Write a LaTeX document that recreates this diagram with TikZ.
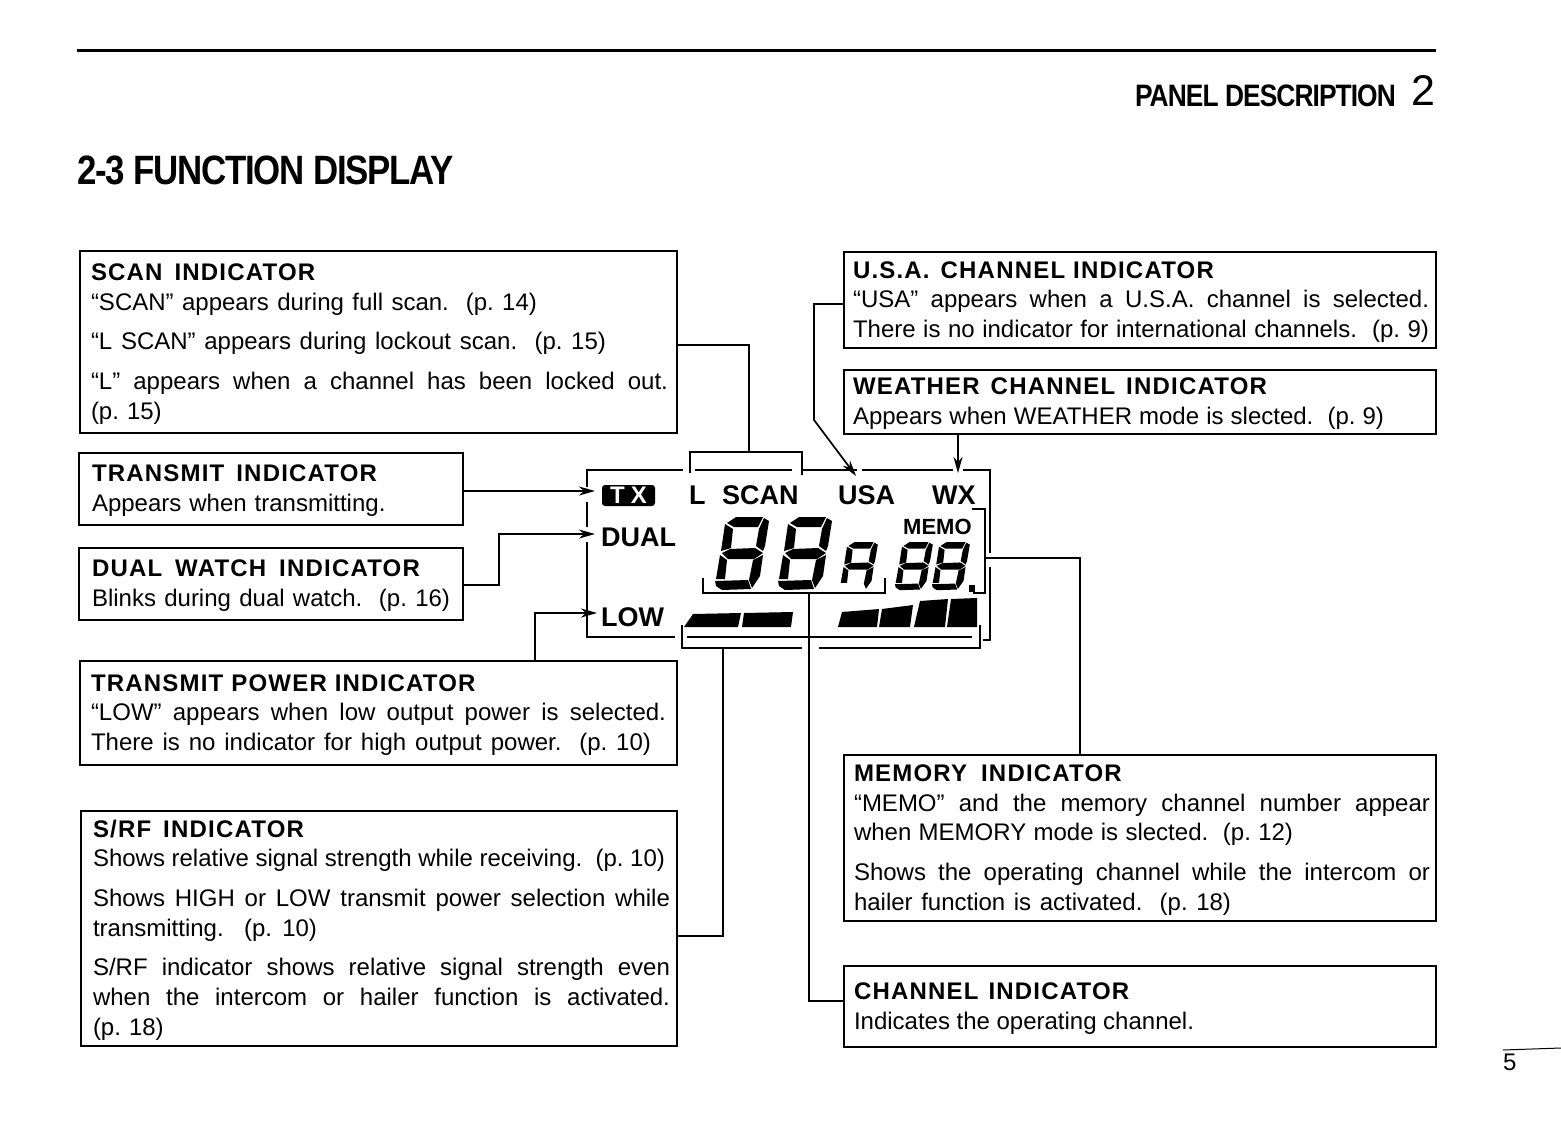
\documentclass[tikz,border=0pt]{standalone}
\usepackage{fontspec}
\setmainfont{Liberation Sans}
\newfontfamily\headfont[FakeStretch=0.85, LetterSpace=-3]{Liberation Sans}
\newfontfamily\titlefont[LetterSpace=5]{Liberation Sans}
\usetikzlibrary{arrows.meta, positioning, calc}

\newcommand{\boxtitle}[1]{\rule{0pt}{20.5pt}{\titlefont\bfseries #1}}
\newcommand{\fitline}[2][\hsize]{\leavevmode\hbox to #1{\spaceskip=.3333em plus 1fil minus 1fil\relax #2}}
% LCD segments, drawn in a 54 x 73 cell
\newcommand{\lcdnobottom}{%
  \fill (12,6) -- (21,0) -- (48,0) -- (43,10) -- (19,10) -- cycle;
  \fill (10,7) -- (18,12) -- (16,31) -- (6,34) -- cycle;
  \fill (49,1) -- (54,4) -- (50,29) -- (48,34) -- (41,29) -- (44,12) -- cycle;
  \fill (7,36) -- (15,32) -- (40,31) -- (48,36) -- (39,42) -- (13,42) -- cycle;
  \fill (5,38) -- (12,43) -- (10,62) -- (1,62) -- cycle;
  \fill (48,38) -- (45,59) -- (37,71) -- (34,63) -- (38,43) -- cycle;
}
\newcommand{\lcdbottom}{%
  \fill (0,64) -- (33,63) -- (36,72) -- (7,73) -- (1,69) -- cycle;
}

\begin{document}
\begin{tikzpicture}[
    x=1pt, y=-1pt,
    infobox/.style={rectangle, draw, line width=1.6pt, anchor=north west, outer sep=0pt, inner ysep=0pt, align=left,
        font=\fontsize{24}{29.7}\selectfont\frenchspacing},
    wire/.style={line width=1.7pt},
    arrow/.style={wire, -{Stealth[length=16pt, width=9pt, inset=5pt]}},
    lcdframe/.style={line width=2.2pt},
    lcdlabel/.style={anchor=base west, inner sep=0pt, font=\fontsize{27}{30}\selectfont\bfseries}
]
\useasboundingbox (0,0) rectangle (1561,1122);

% Page header
\draw[line width=3pt] (77,50) -- (1436,50);
\node[anchor=base east, inner sep=0pt, font=\fontsize{31}{33}\headfont\bfseries] (section) at (1396,106) {PANEL DESCRIPTION};
\node[anchor=base east, inner sep=0pt, font=\fontsize{43}{45}\selectfont] (sectionnum) at (1436,105) {2};
\node[anchor=base west, inner sep=0pt, font=\fontsize{41}{44}\headfont\bfseries] (title) at (77,184.5) {2-3 FUNCTION DISPLAY};
\node[anchor=base west, inner sep=0pt, font=\fontsize{24}{26}\selectfont] (pagenum) at (1503,1070) {5};
\draw[line width=1pt] (1503,1050) -- (1561,1048);

% Left column
\node[infobox, inner xsep=11pt, text width=575pt, minimum height=182pt] (scanbox) at (80,251) {%
  \boxtitle{SCAN~\hspace{4pt}INDICATOR}\\
  \fitline[446pt]{“SCAN” appears during full scan.~~(p. 14)}\\[10pt]
  \fitline[515pt]{“L SCAN” appears during lockout scan.~~(p. 15)}\\[10pt]
  \fitline[577pt]{“L” appears when a channel has been locked out.}\\
  (p. 15)};
\node[infobox, inner xsep=13pt, text width=358pt, minimum height=72pt] (txbox) at (79,453) {%
  \boxtitle{TRANSMIT~\hspace{4pt}INDICATOR}\\
  Appears when transmitting.};
\node[infobox, inner xsep=13pt, text width=358pt, minimum height=72pt] (dualbox) at (79,548) {%
  \boxtitle{DUAL~\hspace{5pt}WATCH~\hspace{5pt}INDICATOR}\\
  \fitline{Blinks during dual watch.~~(p. 16)}};
\node[infobox, inner xsep=11pt, text width=575pt, minimum height=104pt] (powerbox) at (80,661) {%
  \boxtitle{TRANSMIT POWER INDICATOR}\\
  \fitline{“LOW” appears when low output power is selected.}\\
  \fitline[560pt]{There is no indicator for high output power.~~(p. 10)}};
\node[infobox, inner xsep=12pt, text width=572pt, minimum height=235pt] (srfbox) at (81,811) {%
  \boxtitle{S/RF~\hspace{4pt}INDICATOR}\\
  \fitline{Shows relative signal strength while receiving.~~(p. 10)}\\[10pt]
  \fitline[577pt]{Shows HIGH or LOW transmit power selection while}\\
  \fitline[224pt]{transmitting.~~(p. 10)}\\[10pt]
  \fitline[577pt]{S/RF indicator shows relative signal strength even}\\
  \fitline[577pt]{when the intercom or hailer function is activated.}\\
  (p. 18)};

% Right column
\node[infobox, inner xsep=9pt, text width=574pt, minimum height=96pt] (usabox) at (844,252) {%
  \boxtitle{U.S.A.~\hspace{3pt}CHANNEL INDICATOR}\\
  \fitline[576pt]{“USA” appears when a U.S.A. channel is selected.}\\
  \fitline[576pt]{There is no indicator for international channels.~~(p. 9)}};
\node[infobox, inner xsep=9pt, text width=574pt, minimum height=64pt] (wxbox) at (844,370) {%
  \boxtitle{WEATHER~\hspace{3pt}CHANNEL~\hspace{3pt}INDICATOR}\\
  \fitline[531pt]{Appears when WEATHER mode is slected.~~(p. 9)}};
\node[infobox, inner xsep=10pt, text width=572pt, minimum height=166pt] (memorybox) at (844,755) {%
  \boxtitle{MEMORY~\hspace{6pt}INDICATOR}\\
  \fitline[576pt]{“MEMO” and the memory channel number appear}\\
  \fitline[439pt]{when MEMORY mode is slected.~~(p. 12)}\\[10pt]
  \fitline[576pt]{Shows the operating channel while the intercom or}\\
  \fitline[377pt]{hailer function is activated.~~(p. 18)}};
\node[infobox, inner xsep=10pt, text width=572pt, minimum height=81pt] (channelbox) at (844,966) {%
  \boxtitle{CHANNEL~\hspace{2pt}INDICATOR}\\
  \fitline[340pt]{Indicates the operating channel.}};

% Display frame
\draw[lcdframe] (587,487) -- (587,470) -- (683,470);
\draw[lcdframe] (587,502) -- (587,527);
\draw[lcdframe] (587,542) -- (587,637) -- (675,637);
\draw[lcdframe] (695,470) -- (792,470);
\draw[lcdframe] (802,470) -- (857,470);
\draw[lcdframe] (862,470) -- (953,470);
\draw[lcdframe] (963,470) -- (990,470) -- (990,553);
\draw[lcdframe] (990,567) -- (990,640) -- (983,640);
\draw[lcdframe] (687,637) -- (972,637);

% Display texts
\node[anchor=center, fill=black, rounded corners=3pt, minimum width=53pt, minimum height=21pt, inner sep=0pt,
    text=white, font=\fontsize{24}{24}\selectfont\bfseries] (txlamp) at (628.5,495.5) {T\hspace{6pt}X};
\node[lcdlabel] (llabel) at (689,504) {L};
\node[lcdlabel] (scanlabel) at (722,504) {SCAN};
\node[lcdlabel] (usalabel) at (838,504) {USA};
\node[lcdlabel] (wxlabel) at (932,504) {WX};
\node[lcdlabel] (duallabel) at (601,546) {DUAL};
\node[lcdlabel] (lowlabel) at (601,626) {LOW};
\node[lcdlabel, font=\fontsize{22}{22}\selectfont\bfseries] (memolabel) at (903,534) {MEMO};

% Digits
\foreach \dx in {715,778} {
  \begin{scope}[shift={(\dx,517)}]
    \lcdnobottom
    \lcdbottom
  \end{scope}
}
\begin{scope}[shift={(840,542)}, xscale=0.70, yscale=0.66]
  \lcdnobottom
\end{scope}
\foreach \dx in {895,932} {
  \begin{scope}[shift={(\dx,542)}, xscale=0.70, yscale=0.66]
    \lcdnobottom
    \lcdbottom
  \end{scope}
}
\fill (969,585) rectangle (975,592);

% Level bars
\fill (684,627) -- (693,614) -- (741,613) -- (738,627) -- cycle;
\fill (744,613) -- (793,612) -- (791,627) -- (742,627) -- cycle;
\fill (842,612) -- (879,609) -- (877,627) -- (838,627) -- cycle;
\fill (882,609) -- (913,605) -- (910,627) -- (879,627) -- cycle;
\fill (920,601) -- (948,599) -- (945,627) -- (914,627) -- cycle;
\fill (951,599) -- (977,598) -- (977,627) -- (947,627) -- cycle;

% Connector ends
\coordinate (scanjoin) at (749,452);
\coordinate (usatip) at (856,476);
\coordinate (wxtip) at (958,473);
\coordinate (txtip) at (595,491);
\coordinate (dualtip) at (595,534);
\coordinate (lowjoin) at (535,613);
\coordinate (lowtip) at (597,613);
\coordinate (srfjoin) at (723,648);
\coordinate (channeljoin) at (809,593);
\coordinate (memojoin) at (985,558);
\coordinate (memotop) at (1080,755);

% Brackets
\draw[wire] (690,473) -- (690,452) -- (802,452) -- (802,475);
\draw[wire] (972,509) -- (985,509) -- (985,593) -- (973,593);
\draw[wire] (703,578) -- (703,593) -- (885,593) -- (885,578);
\draw[wire] (682,625) -- (682,648) -- (802,648);
\draw[wire] (819,648) -- (980,648) -- (980,625);

% Connectors
\draw[wire] ([yshift=-3pt]scanbox.east) -| (scanjoin);
\draw[arrow] ([yshift=-4pt]usabox.west) -- ++(-30,0) -- ++(0,116) -- (usatip);
\draw[arrow] (wxbox.south -| wxtip) -- (wxtip);
\draw[arrow] ([yshift=-2pt]txbox.east) -- (txtip);
\draw[arrow] ([yshift=-1pt]dualbox.east) -- ++(36,0) |- (dualtip);
\draw[arrow] (powerbox.north -| lowjoin) -- (lowjoin) -- (lowtip);
\draw[wire] ([yshift=-7.5pt]srfbox.east) -| (srfjoin);
\draw[wire] (channeljoin) |- ([yshift=5.5pt]channelbox.west);
\draw[wire] (memojoin) -| (memotop);

\end{tikzpicture}
\end{document}
